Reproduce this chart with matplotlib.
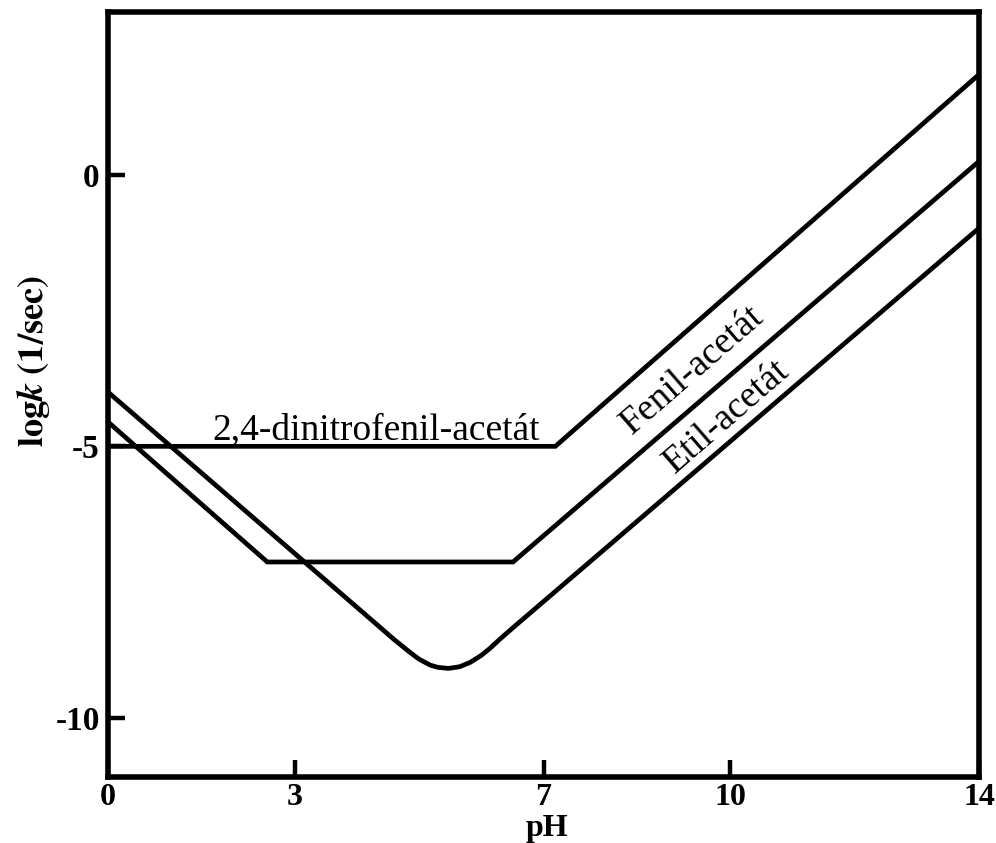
import matplotlib
matplotlib.use('Agg')
import matplotlib.pyplot as plt

plt.rcParams['font.family'] = ['Liberation Serif', 'DejaVu Serif']
plt.rcParams['mathtext.fontset'] = 'stix'

# values (pH, log k)
dinitro_ph = [0, 7.19, 14]
dinitro_logk = [-5.0, -5.0, 1.85]

fenil_ph = [0, 2.56, 6.51, 14]
fenil_logk = [-4.55, -7.13, -7.13, 0.25]

etil_ph = [0, 4.37, 4.6, 4.86, 5.0, 5.18, 5.3, 5.47, 5.65, 5.82, 6.0, 6.14, 6.3, 6.51, 14]
etil_logk = [-4.0, -8.33, -8.56, -8.8, -8.92, -9.03, -9.07, -9.09, -9.06, -8.98, -8.85, -8.72, -8.55, -8.34, -0.98]

xticks = [0, 3, 7, 10, 14]
yticks = [0, -5, -10]
ytick_labels = ['0', '-5', '-10']

fig = plt.figure(figsize=(9.96, 8.43), dpi=100)
ax = fig.add_axes([0.1084, 0.0783, 0.8746, 0.9075])

lw = 3.4
ax.plot(dinitro_ph, dinitro_logk, color='black', lw=lw, solid_joinstyle='miter')
ax.plot(fenil_ph, fenil_logk, color='black', lw=lw, solid_joinstyle='miter')
ax.plot(etil_ph, etil_logk, color='black', lw=lw, solid_joinstyle='round')

ax.set_xlim(0, 14)
ax.set_ylim(-11.09, 3.0)

for s in ax.spines.values():
    s.set_linewidth(4.0)

ax.set_xticks(xticks)
ax.set_xticklabels([str(t) for t in xticks], fontsize=23, fontweight='bold')
ax.set_yticks(yticks)
ax.set_yticklabels(ytick_labels, fontsize=24, fontweight='bold')
ax.tick_params(direction='in', length=12, width=3.2)
ax.tick_params(axis='x', pad=4)
ax.tick_params(axis='y', pad=6)

ax.set_xlabel('pH', fontsize=23, fontweight='bold', va='top')
ax.xaxis.set_label_coords(0.504, -0.049)
ax.set_ylabel(r'$\mathbf{log}\boldsymbol{k}\ \mathbf{(1/sec)}$', fontsize=26, va='center')
ax.yaxis.set_label_coords(-0.086, 0.544)

ax.text(1.67, -4.87, '2,4-dinitrofenil-acetát', fontsize=27, ha='left', va='baseline')
ax.text(9.4, -3.59, 'Fenil-acetát', fontsize=27, ha='center', va='center', rotation=41)
ax.text(9.95, -4.46, 'Etil-acetát', fontsize=27, ha='center', va='center', rotation=41)

fig.savefig('out.png', dpi=100)
